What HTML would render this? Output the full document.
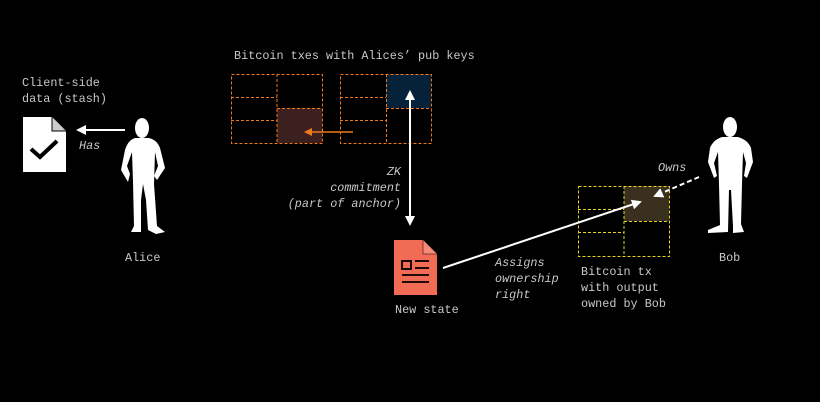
<!DOCTYPE html>
<html><head><style>
body{margin:0;background:#000;}
svg{display:block}
text{font-family:"Liberation Mono",monospace;font-size:11.8px;fill:#c8c8c8}
.i{font-style:italic}
</style></head><body>
<svg width="820" height="402" viewBox="0 0 820 402" xmlns="http://www.w3.org/2000/svg">
<defs>
<marker id="a" markerWidth="10" markerHeight="10" refX="8" refY="5" orient="auto" markerUnits="userSpaceOnUse"><path d="M0,0 L10,5 L0,10 Z" fill="#fff"/></marker>
<marker id="b" markerWidth="8" markerHeight="8" refX="6" refY="4" orient="auto" markerUnits="userSpaceOnUse"><path d="M0,0 L8,4 L0,8 Z" fill="#f07a1a"/></marker>
</defs>
<rect width="820" height="402" fill="#000"/>
<text x="234" y="59">Bitcoin txes with Alices’ pub keys</text>
<text x="22" y="86">Client-side</text>
<text x="22" y="102">data (stash)</text>
<rect x="277" y="108" width="45" height="35" fill="#3c2020"/>
<g fill="none" stroke="#f07a1a" stroke-dasharray="3,2" stroke-width="1">
<rect x="231.5" y="74.5" width="91" height="69"/>
<line x1="277" y1="74" x2="277" y2="143"/>
<line x1="231" y1="97.5" x2="277" y2="97.5"/>
<line x1="231" y1="120.5" x2="277" y2="120.5"/>
<line x1="277" y1="108.5" x2="322" y2="108.5"/>
</g>
<rect x="386" y="74" width="45" height="34" fill="#05223a"/>
<g fill="none" stroke="#f07a1a" stroke-dasharray="3,2" stroke-width="1">
<rect x="340.5" y="74.5" width="91" height="69"/>
<line x1="386.5" y1="74" x2="386.5" y2="143"/>
<line x1="340" y1="97.5" x2="386" y2="97.5"/>
<line x1="340" y1="120.5" x2="386" y2="120.5"/>
<line x1="386" y1="108.5" x2="431" y2="108.5"/>
</g>
<line x1="353" y1="132" x2="306" y2="132" stroke="#f07a1a" stroke-width="1.5" marker-end="url(#b)"/>
<line x1="410" y1="215" x2="410" y2="92" stroke="#fff" stroke-width="2" marker-end="url(#a)"/>
<line x1="410" y1="100" x2="410" y2="224" stroke="#fff" stroke-width="2" marker-end="url(#a)"/>
<text class="i" x="401" y="175" text-anchor="end">ZK</text>
<text class="i" x="401" y="191" text-anchor="end">commitment</text>
<text class="i" x="401" y="207" text-anchor="end">(part of anchor)</text>
<path d="M23,117 H52 L66,131 V172 H23 Z" fill="#fff"/>
<path d="M52,117 V131 H66" fill="#ccc" stroke="#000" stroke-width="1"/>
<path d="M31,149 L40,157 L57,141" fill="none" stroke="#000" stroke-width="4"/>
<line x1="125" y1="130" x2="78" y2="130" stroke="#fff" stroke-width="2" marker-end="url(#a)"/>
<text class="i" x="79" y="149">Has</text>
<g fill="#fff">
<ellipse cx="142" cy="128" rx="7" ry="10"/>
<path d="M135,138 Q128,140 125,150 L121,170 L128,182 L130,174 L127,166 L132,152 L133,182 L134,226 L131,232 L141,232 L141,200 L143,184 L146,200 L148,230 L156,234 L165,232 L157,226 L154,184 L155,152 L158,166 L154,176 L157,180 L165,168 L160,148 Q157,140 149,138 Z"/>
</g>
<text x="125" y="261">Alice</text>
<path d="M394,240 H423 L437,254 V295 H394 Z" fill="#f26b55"/>
<path d="M423,240 V254 H437" fill="#f58a78" stroke="#000" stroke-width="0.5"/>
<g fill="none" stroke="#000" stroke-width="1.8">
<rect x="402" y="261" width="9" height="8"/>
<line x1="415" y1="261" x2="429" y2="261"/><line x1="415" y1="268" x2="429" y2="268"/>
<line x1="402" y1="275" x2="429" y2="275"/><line x1="402" y1="282" x2="429" y2="282"/>
</g>
<text x="395" y="313">New state</text>
<text class="i" x="495" y="266">Assigns</text>
<text class="i" x="495" y="282">ownership</text>
<text class="i" x="495" y="298">right</text>
<rect x="624" y="186" width="45" height="35" fill="#3a3020"/>
<g fill="none" stroke="#e8d520" stroke-dasharray="3,2" stroke-width="1">
<rect x="578.5" y="186.5" width="91" height="70"/>
<line x1="624" y1="186" x2="624" y2="256"/>
<line x1="578" y1="209.5" x2="624" y2="209.5"/>
<line x1="578" y1="232.5" x2="624" y2="232.5"/>
<line x1="624" y1="221.5" x2="669" y2="221.5"/>
</g>
<line x1="443" y1="268" x2="640" y2="202" stroke="#fff" stroke-width="2" marker-end="url(#a)"/>
<line x1="699" y1="177" x2="655" y2="196" stroke="#fff" stroke-width="2" stroke-dasharray="5,3" marker-end="url(#a)"/>
<text class="i" x="658" y="171">Owns</text>
<text x="581" y="275">Bitcoin tx</text>
<text x="581" y="291">with output</text>
<text x="581" y="307">owned by Bob</text>
<g fill="#fff">
<ellipse cx="730" cy="127" rx="7" ry="10"/>
<path d="M722,137 Q713,140 710,148 L708,162 L714,178 L717,176 L714,163 L718,152 L719,184 L720,225 L708,230 L708,233 L728,232 L729,190 L731,190 L733,226 L733,233 L744,232 L741,224 L742,184 L743,152 L746,163 L744,176 L747,178 L753,162 L751,148 Q748,140 738,137 Z"/>
</g>
<text x="719" y="261">Bob</text>
</svg>
</body></html>
